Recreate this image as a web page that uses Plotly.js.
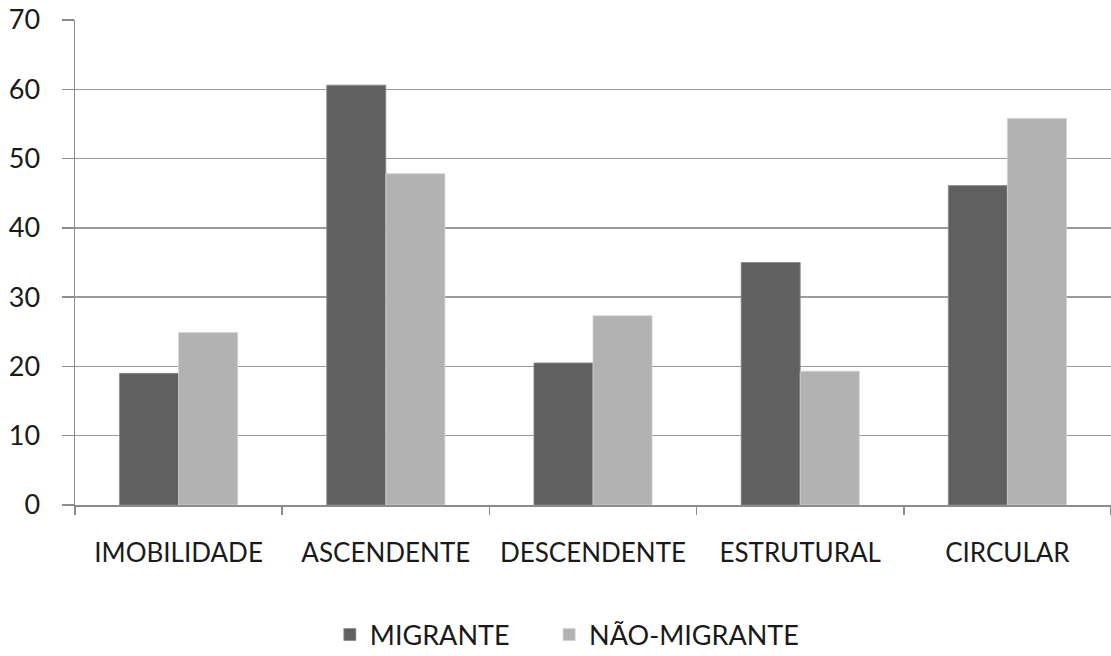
<!DOCTYPE html>
<html><head><meta charset="utf-8">
<script src="https://cdn.plot.ly/plotly-3.0.1.min.js"></script>
<style>body{margin:0;background:#fff}#chart{width:1111px;height:656px}</style>
</head><body><div id="chart"></div>
<script>
var categories = ["IMOBILIDADE", "ASCENDENTE", "DESCENDENTE", "ESTRUTURAL", "CIRCULAR"];
var migrante = [19.0, 60.6, 20.5, 35.0, 46.1];
var naoMigrante = [24.9, 47.8, 27.3, 19.3, 55.8];
var seriesNames = ["MIGRANTE", "NÃO-MIGRANTE"];
var yTicks = [0, 10, 20, 30, 40, 50, 60, 70];

var font = "Lato, 'Open Sans', sans-serif";
var pad = "\u00a0\u00a0\u00a0\u00a0\u00a0";
var traces = [
  {type: "bar", name: seriesNames[0] + pad, x: categories, y: migrante,
   marker: {color: "#606060", line: {color: "#8a8a8a", width: 0.8}}},
  {type: "bar", name: seriesNames[1], x: categories, y: naoMigrante,
   marker: {color: "#b2b2b2", line: {color: "#d0d0d0", width: 0.8}}}
];
var layout = {
  width: 1111, height: 656,
  margin: {l: 75, r: 0, t: 20, b: 151},
  paper_bgcolor: "#fff", plot_bgcolor: "#fff",
  barmode: "group", bargap: 0.43, bargroupgap: 0,
  font: {family: font, color: "#1a1a1a", size: 26},
  xaxis: {
    tickson: "boundaries", ticks: "outside", ticklen: 8, tickcolor: "#8c8c8c", tickwidth: 1.5,
    showline: true, linecolor: "#8c8c8c", linewidth: 1.5, showgrid: false,
    tickfont: {size: 26, family: font, color: "#1a1a1a"}, ticklabelstandoff: 24
  },
  yaxis: {
    range: [0, 70], tickvals: yTicks, ticks: "outside", ticklen: 12, tickcolor: "#8c8c8c", tickwidth: 1.5,
    showline: true, linecolor: "#8c8c8c", linewidth: 1.5,
    showgrid: true, gridcolor: "#9a9a9a", gridwidth: 1.5, zeroline: false,
    tickfont: {size: 27, family: font, color: "#1a1a1a"}, ticklabelstandoff: 16
  },
  legend: {orientation: "h", x: 0.246, xanchor: "left", yref: "container", y: 0.032, yanchor: "middle",
    font: {size: 27, family: font, color: "#1a1a1a"}, itemwidth: 30},
  showlegend: true
};
Plotly.newPlot("chart", traces, layout, {displayModeBar: false, staticPlot: true});
</script></body></html>
